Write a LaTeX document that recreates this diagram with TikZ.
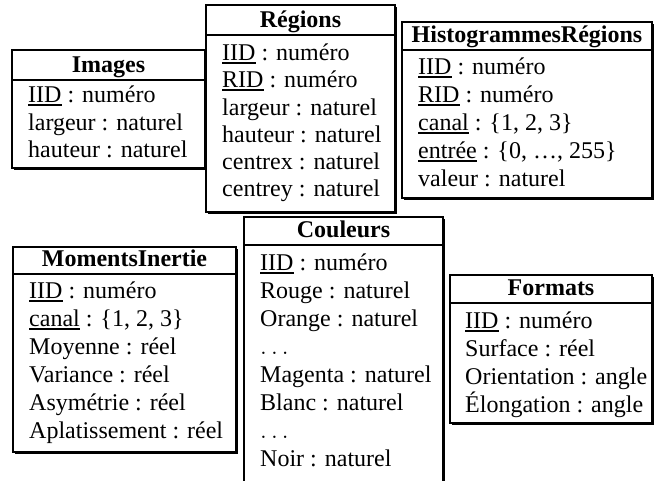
\documentclass[tikz,border=0pt]{standalone}
\usepackage{fontspec}
\setmainfont{Liberation Serif}
\usetikzlibrary{shadows}
\newsavebox{\ulxbox}
\newcommand{\ulx}[1]{\sbox{\ulxbox}{#1}\rlap{\rule[-3.5pt]{\wd\ulxbox}{1.6pt}}\usebox{\ulxbox}}
\begin{document}
\begin{tikzpicture}[x=1pt,y=-1pt,
  tbl/.style={draw, line width=1.5pt, fill=white, inner sep=0pt, outer sep=0pt, anchor=north west,
    general shadow={fill=black, shadow xshift=1.5pt, shadow yshift=-1.5pt}},
  hdr/.style={font=\fontsize{24}{28}\selectfont\bfseries, inner sep=0pt, anchor=base},
  attr/.style={font=\fontsize{24}{28}\selectfont, inner sep=0pt, anchor=base west},
  sepline/.style={line width=2pt}]
\useasboundingbox (0,0) rectangle (655,480);
\clip (0,0) rectangle (655,480);
% boxes
\node[tbl, minimum width=193pt, minimum height=118pt] (images) at (12,50) {};
\node[tbl, minimum width=189pt, minimum height=207pt] (regions) at (206,5) {};
\node[tbl, minimum width=250pt, minimum height=176pt] (histo) at (402,22) {};
\node[tbl, minimum width=223pt, minimum height=205pt] (moments) at (13,247) {};
\node[tbl, minimum width=199pt, minimum height=290pt] (couleurs) at (244,217) {};
\node[tbl, minimum width=202pt, minimum height=148pt] (formats) at (450,275) {};
% header separators
\draw[sepline] ([yshift=-30pt]images.north west) -- ([yshift=-30pt]images.north east);
\draw[sepline] ([yshift=-30pt]regions.north west) -- ([yshift=-30pt]regions.north east);
\draw[sepline] ([yshift=-28pt]histo.north west) -- ([yshift=-28pt]histo.north east);
\draw[sepline] ([yshift=-27pt]moments.north west) -- ([yshift=-27pt]moments.north east);
\draw[sepline] ([yshift=-28pt]couleurs.north west) -- ([yshift=-28pt]couleurs.north east);
\draw[sepline] ([yshift=-28pt]formats.north west) -- ([yshift=-28pt]formats.north east);
% Images
\node[hdr] (imagesh) at (108.5,72) {Images};
\node[attr] (images1) at (28,102) {\ulx{IID} : numéro};
\node[attr] (images2) at (28,130) {largeur : naturel};
\node[attr] (images3) at (28,157) {hauteur : naturel};
% Regions
\node[hdr] (regionsh) at (300.5,27) {Régions};
\node[attr] (regions1) at (222,60) {\ulx{IID} : numéro};
\node[attr] (regions2) at (222,87) {\ulx{RID} : numéro};
\node[attr] (regions3) at (222,115) {largeur : naturel};
\node[attr] (regions4) at (222,142) {hauteur : naturel};
\node[attr] (regions5) at (222,169) {centrex : naturel};
\node[attr] (regions6) at (222,196) {centrey : naturel};
% Histogrammes
\node[hdr] (histoh) at (527,42) {HistogrammesRégions};
\node[attr] (histo1) at (418,74) {\ulx{IID} : numéro};
\node[attr] (histo2) at (418,102) {\ulx{RID} : numéro};
\node[attr] (histo3) at (418,130) {\ulx{canal} : \{1, 2, 3\}};
\node[attr] (histo4) at (418,158) {\ulx{entrée} : \{0, \ldots, 255\}};
\node[attr] (histo5) at (418,186) {valeur : naturel};
% Moments
\node[hdr] (momentsh) at (124.5,266) {MomentsInertie};
\node[attr] (moments1) at (29,298) {\ulx{IID} : numéro};
\node[attr] (moments2) at (29,326) {\ulx{canal} : \{1, 2, 3\}};
\node[attr] (moments3) at (29,354) {Moyenne : réel};
\node[attr] (moments4) at (29,382) {Variance : réel};
\node[attr] (moments5) at (29,410) {Asymétrie : réel};
\node[attr] (moments6) at (29,438) {Aplatissement : réel};
% Couleurs
\node[hdr] (couleursh) at (343.5,237) {Couleurs};
\node[attr] (couleurs1) at (260,270) {\ulx{IID} : numéro};
\node[attr] (couleurs2) at (260,298) {Rouge : naturel};
\node[attr] (couleurs3) at (260,326) {Orange : naturel};
\node[attr] (couleurs4) at (260,354) {$\ldots$};
\node[attr] (couleurs5) at (260,382) {Magenta : naturel};
\node[attr] (couleurs6) at (260,410) {Blanc : naturel};
\node[attr] (couleurs7) at (260,438) {$\ldots$};
\node[attr] (couleurs8) at (260,466) {Noir : naturel};
% Formats
\node[hdr] (formatsh) at (551,295) {Formats};
\node[attr] (formats1) at (465,328) {\ulx{IID} : numéro};
\node[attr] (formats2) at (465,356) {Surface : réel};
\node[attr] (formats3) at (465,384) {Orientation : angle};
\node[attr] (formats4) at (465,412) {Élongation : angle};
\end{tikzpicture}
\end{document}
